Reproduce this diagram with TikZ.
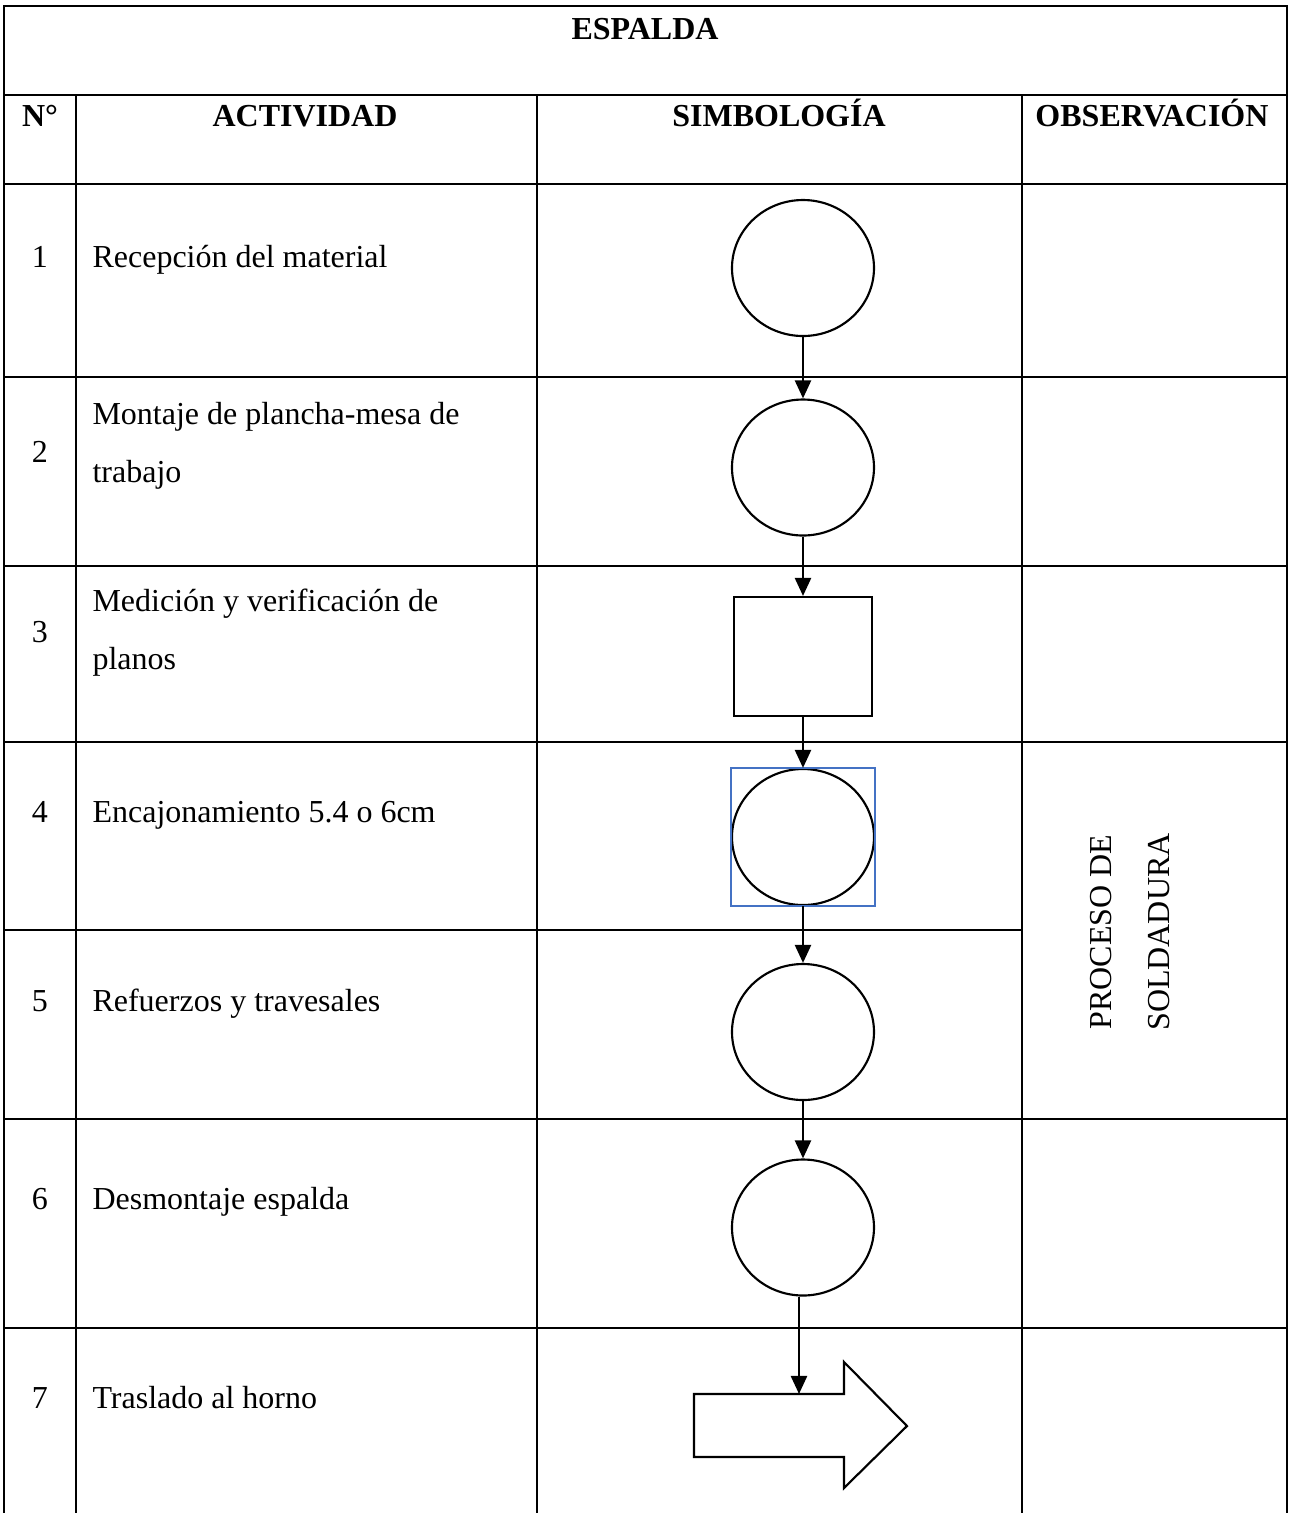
\documentclass[tikz,border=0pt]{standalone}
\usepackage{fontspec}
\setmainfont{Liberation Serif}
\usetikzlibrary{arrows.meta,positioning,shapes.geometric}
\definecolor{selblue}{HTML}{4472C4}

\begin{document}
\begin{tikzpicture}[x=0.375pt,y=-0.375pt,>={Triangle[length=6.8pt,width=6pt]},
  rule/.style={line width=1.1pt},
  txt/.style={font=\fontsize{12}{21.75}\selectfont,inner sep=0pt},
  hd/.style={txt,font=\fontsize{12}{21.75}\selectfont\bfseries,anchor=base},
  oper/.style={ellipse,draw,line width=0.8pt,inner sep=0pt,minimum width=53.25pt,minimum height=51pt},
  insp/.style={rectangle,draw,line width=0.8pt,inner sep=0pt,minimum width=51.75pt,minimum height=44.6pt},
  flow/.style={->,line width=1pt}]
  \useasboundingbox (0,0) rectangle (1291,1513);
  % table grid
  \draw[rule] (4,1513) -- (4,6) -- (1287,6) -- (1287,1513);
  \draw[rule] (4,95) -- (1287,95);
  \foreach \y in {184,377,566,742,1119,1328}{\draw[rule] (4,\y) -- (1287,\y);}
  \draw[rule] (4,930) -- (1022,930);
  \foreach \x in {76,537,1022}{\draw[rule] (\x,95) -- (\x,1513);}
  % headings
  \node[hd] (ttl) at (645,39) {ESPALDA};
  \node[hd] (hnum) at (40,126) {N°};
  \node[hd] (hact) at (305,126) {ACTIVIDAD};
  \node[hd] (hsim) at (779,126) {SIMBOLOGÍA};
  \node[hd] (hobs) at (1152,126) {OBSERVACIÓN};
  % rows
  \foreach \n/\y in {1/267,2/462,3/642,4/822,5/1011,6/1209,7/1408}{\node[txt,anchor=base] (n\n) at (40,\y) {\n};}
  \node[txt,anchor=base west] (a1) at (92,267) {Recepción del material};
  \node[txt,anchor=base west,align=left] (a2) at (92,482) {Montaje de plancha-mesa de\\trabajo};
  \node[txt,anchor=base west,align=left] (a3) at (92,669) {Medición y verificación de\\planos};
  \node[txt,anchor=base west] (a4) at (92,822) {Encajonamiento 5.4 o 6cm};
  \node[txt,anchor=base west] (a5) at (92,1011) {Refuerzos y travesales};
  \node[txt,anchor=base west] (a6) at (92,1209) {Desmontaje espalda};
  \node[txt,anchor=base west] (a7) at (92,1408) {Traslado al horno};
  \node[txt,rotate=90,align=center] (obs) at (1130,932) {PROCESO DE\\SOLDADURA};
  % symbols
  \node[oper] (s1) at (803,268) {};
  \node[oper] (s2) at (803,467.5) {};
  \node[insp] (s3) at (803,656.5) {};
  \node[oper] (s4) at (803,837) {};
  \node[oper] (s5) at (803,1032) {};
  \node[oper] (s6) at (803,1227.5) {};
  \draw[line width=0.8pt] (694,1394) -- (844,1394) -- (844,1362) -- (907,1426) -- (844,1488) -- (844,1457) -- (694,1457) -- cycle;
  \coordinate (s7) at (799,1394);
  \draw[selblue,line width=0.75pt] (s4.west |- s4.north) rectangle (s4.east |- s4.south);
  % connectors
  \foreach \a/\b in {s1/s2,s2/s3,s3/s4,s4/s5,s5/s6}{\draw[flow] (\a.south) -- (\b.north);}
  \draw[flow] (s6.south -| s7) -- (s7);
\end{tikzpicture}
\end{document}
